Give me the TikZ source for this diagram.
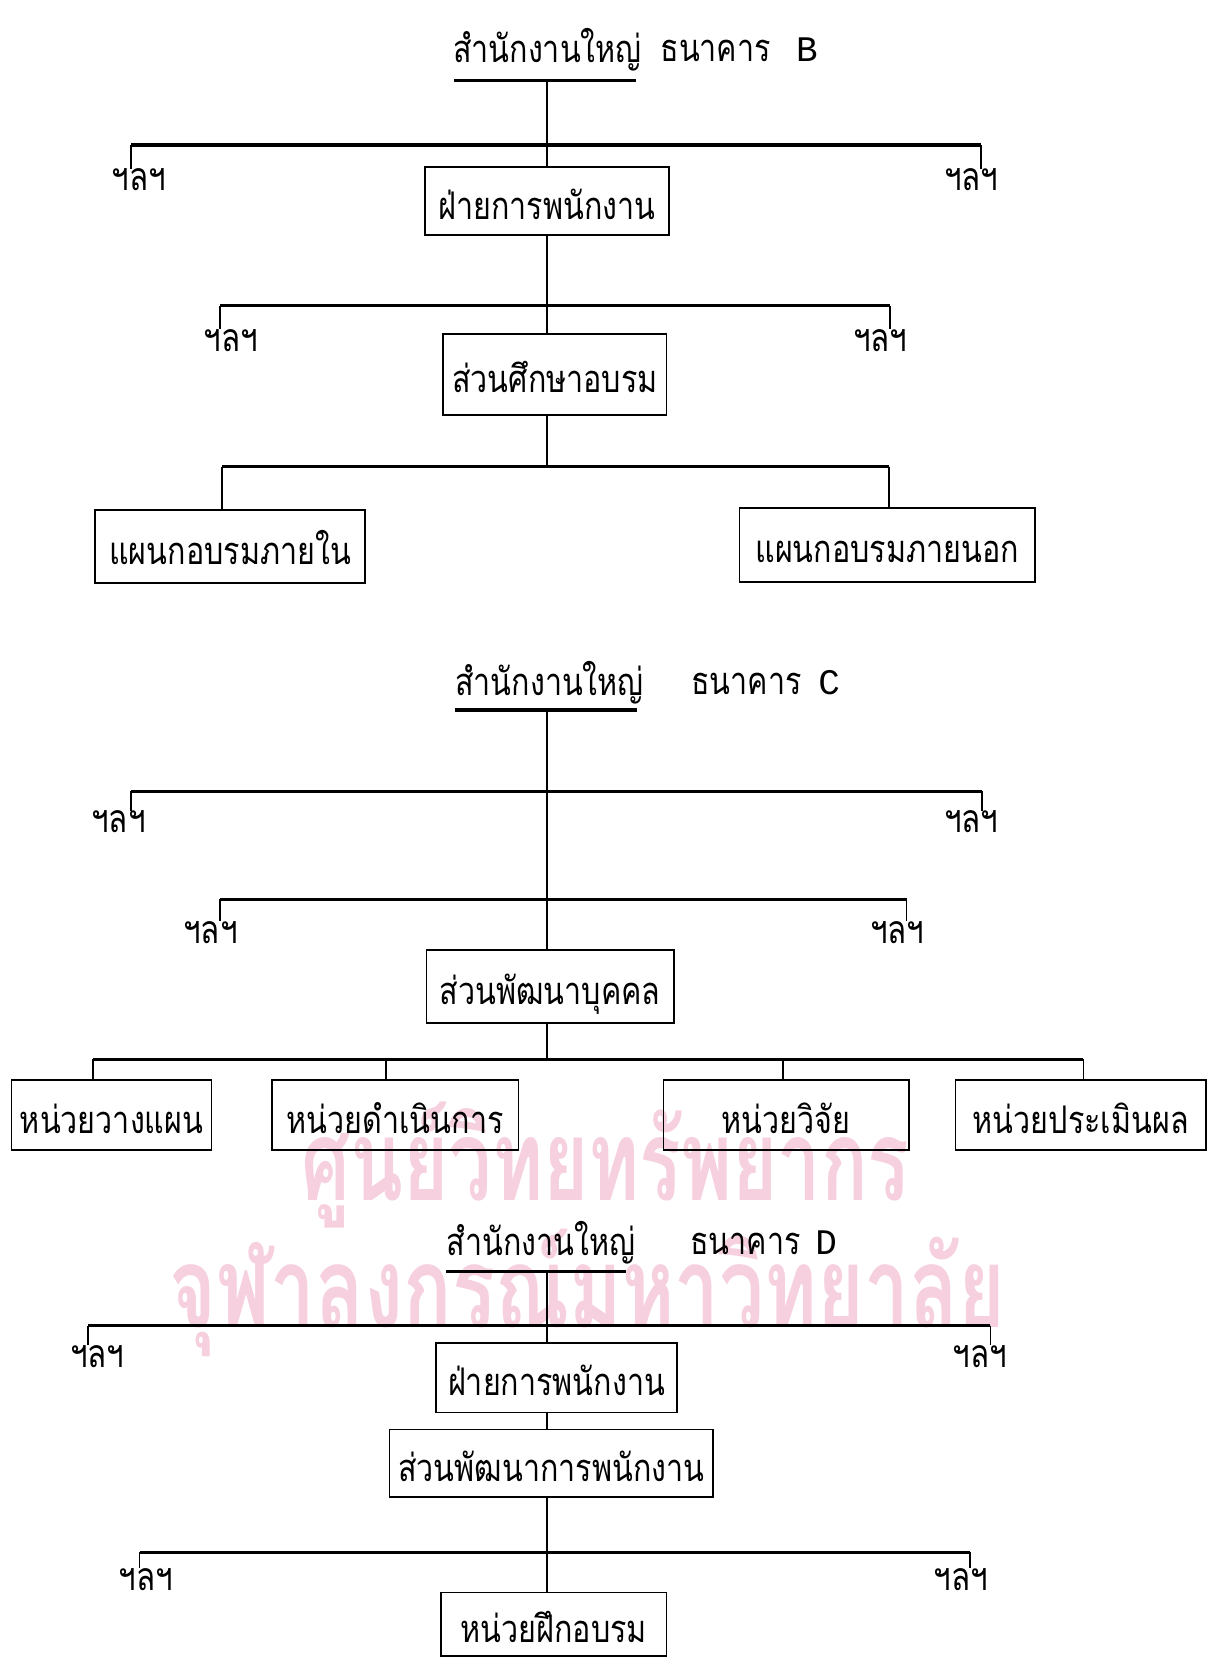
\documentclass[tikz,border=0pt]{standalone}
\usepackage{fontspec}
\usepackage{graphicx}
\newfontfamily\thaifont[Script=Thai,FakeStretch=0.8]{Loma}
\newfontfamily\wmfont[Script=Thai]{Loma}
\newfontfamily\latinmono{Liberation Mono}
\definecolor{wmpink}{RGB}{246,208,222}
\newcommand{\banklet}[1]{{\latinmono\fontsize{34}{34}\selectfont #1}}
\begin{document}
\begin{tikzpicture}[x=1pt,y=-1pt,
  bar/.style={line width=3pt},
  conn/.style={line width=1.4pt},
  tick/.style={line width=1.4pt},
  orgbox/.style={draw, line width=1.6pt, inner sep=0pt, text height=36pt, text depth=2pt,
    font=\thaifont\fontsize{36}{40}\selectfont},
  etc/.style={inner sep=0pt, font=\thaifont\fontsize{37}{40}\selectfont},
  ttl/.style={inner sep=0pt, anchor=west, font=\thaifont\fontsize{36}{40}\selectfont},
  wm/.style={inner sep=0pt, anchor=base, text=wmpink, font=\wmfont\bfseries}]
\useasboundingbox (0,0) rectangle (1152,1568);
\fill[white] (0,0) rectangle (1152,1568);

% watermark
\node[wm] (wm1) at (572,1135) {\scalebox{1}[1.45]{\resizebox{575pt}{!}{ศูนย์วิทยทรัพยากร}}};
\node[wm] (wm2) at (555,1255) {\scalebox{1}[1.4]{\resizebox{790pt}{!}{จุฬาลงกรณ์มหาวิทยาลัย}}};

% ================= B =================
\node[ttl] (tB1) at (428,47) {สำนักงานใหญ่};
\node[ttl] (tB2) at (624,47) {ธนาคาร\hspace{24pt}\banklet{B}};
\coordinate (uBl) at (429,76); \coordinate (uBr) at (601,76);
\coordinate (uB) at (517,76);
\draw[bar] (uBl) -- (uBr);

\coordinate (b1Bl) at (124,137); \coordinate (b1Br) at (927,137);
\node[etc] (e1Bl) at (131,170) {ฯลฯ};
\node[etc] (e1Br) at (918,170) {ฯลฯ};
\node[orgbox, minimum width=230pt, minimum height=64pt] (B1) at (517,190) {ฝ่ายการพนักงาน};
\coordinate (b2Bl) at (208,289); \coordinate (b2Br) at (841,289);
\node[etc] (e2Bl) at (218,322) {ฯลฯ};
\node[etc] (e2Br) at (832,322) {ฯลฯ};
\node[orgbox, minimum width=211pt, minimum height=76pt] (B2) at (524.5,354) {ส่วนศึกษาอบรม};
\coordinate (b3B) at (517,441); \coordinate (b3Bl) at (210,441); \coordinate (b3Br) at (840,441);
\node[orgbox, minimum width=255pt, minimum height=69pt] (BL) at (217.5,516.5) {แผนกอบรมภายใน};
\node[orgbox, minimum width=279pt, minimum height=70pt] (BR) at (838.5,515) {แผนกอบรมภายนอก};

\draw[conn] (uB) -- (B1.north);
\draw[bar] (b1Bl) -- (b1Br);
\draw[tick] (b1Bl) -- (b1Bl |- e1Bl.north);
\draw[tick] (b1Br) -- (b1Br |- e1Br.north);
\draw[conn] (B1.south) -- (B2.north -| B1.south);
\draw[bar] (b2Bl) -- (b2Br);
\draw[tick] (b2Bl) -- (b2Bl |- e2Bl.north);
\draw[tick] (b2Br) -- (b2Br |- e2Br.north);
\draw[conn] (B2.south -| b3B) -- (b3B);
\draw[bar] (b3Bl) -- (b3Br);
\draw[conn] (b3Bl) -- (b3Bl |- BL.north);
\draw[conn] (b3Br) -- (b3Br |- BR.north);

% ================= C =================
\node[ttl] (tC1) at (430,645) {สำนักงานใหญ่};
\node[ttl] (tC2) at (653,645) {ธนาคาร\hspace{16pt}\banklet{C}};
\coordinate (uCl) at (430,671); \coordinate (uCr) at (602,671);
\coordinate (uC) at (517,671);
\draw[bar] (uCl) -- (uCr);

\coordinate (b1Cl) at (124,748); \coordinate (b1Cr) at (928,748);
\node[etc] (e1Cl) at (112,777) {ฯลฯ};
\node[etc] (e1Cr) at (918,777) {ฯลฯ};
\coordinate (b2Cl) at (208,850); \coordinate (b2Cr) at (857,850);
\node[etc] (e2Cl) at (199,881) {ฯลฯ};
\node[etc] (e2Cr) at (848,881) {ฯลฯ};
\node[orgbox, minimum width=234pt, minimum height=69pt] (C1) at (520,932.5) {ส่วนพัฒนาบุคคล};
\coordinate (b3C) at (517,1001); \coordinate (b3Cl) at (88,1001); \coordinate (b3Cr) at (1024,1001);
\coordinate (t3C2) at (365,1001); \coordinate (t3C3) at (740,1001);
\node[orgbox, minimum width=189pt, minimum height=66pt] (C2) at (105.5,1054) {หน่วยวางแผน};
\node[orgbox, minimum width=233pt, minimum height=66pt] (C3) at (373.5,1054) {หน่วยดำเนินการ};
\node[orgbox, minimum width=232pt, minimum height=66pt] (C4) at (743,1054) {หน่วยวิจัย};
\node[orgbox, minimum width=237pt, minimum height=66pt] (C5) at (1021.5,1054) {หน่วยประเมินผล};

\draw[conn] (uC) -- (uC |- C1.north);
\draw[bar] (b1Cl) -- (b1Cr);
\draw[tick] (b1Cl) -- (b1Cl |- e1Cl.north);
\draw[tick] (b1Cr) -- (b1Cr |- e1Cr.north);
\draw[bar] (b2Cl) -- (b2Cr);
\draw[tick] (b2Cl) -- (b2Cl |- e2Cl.north);
\draw[tick] (b2Cr) -- (b2Cr |- e2Cr.north);
\draw[conn] (C1.south -| b3C) -- (b3C);
\draw[bar] (b3Cl) -- (b3Cr);
\draw[conn] (b3Cl) -- (b3Cl |- C2.north);
\draw[conn] (t3C2) -- (t3C2 |- C3.north);
\draw[conn] (t3C3) -- (t3C3 |- C4.north);
\draw[conn] (b3Cr) -- (b3Cr |- C5.north);

% ================= D =================
\node[ttl] (tD1) at (422,1175) {สำนักงานใหญ่};
\node[ttl] (tD2) at (652,1175) {ธนาคาร\hspace{14pt}\banklet{D}};
\coordinate (uDl) at (422,1202); \coordinate (uDr) at (592,1202);
\coordinate (uD) at (517,1202);
\draw[bar] (uDl) -- (uDr);

\coordinate (b1Dl) at (83,1253); \coordinate (b1Dr) at (936,1253);
\node[etc] (e1Dl) at (92,1282) {ฯลฯ};
\node[etc] (e1Dr) at (926,1282) {ฯลฯ};
\node[orgbox, minimum width=228pt, minimum height=66pt] (D1) at (526,1302) {ฝ่ายการพนักงาน};
\node[orgbox, minimum width=306pt, minimum height=64pt] (D2) at (521,1383) {ส่วนพัฒนาการพนักงาน};
\coordinate (b2Dl) at (132,1467); \coordinate (b2Dr) at (917,1467);
\node[etc] (e2Dl) at (138,1493) {ฯลฯ};
\node[etc] (e2Dr) at (908,1493) {ฯลฯ};
\node[orgbox, minimum width=213pt, minimum height=60pt] (D3) at (523.5,1535) {หน่วยฝึกอบรม};

\draw[conn] (uD) -- (uD |- D1.north);
\draw[bar] (b1Dl) -- (b1Dr);
\draw[tick] (b1Dl) -- (b1Dl |- e1Dl.north);
\draw[tick] (b1Dr) -- (b1Dr |- e1Dr.north);
\draw[conn] (D1.south -| uD) -- (D2.north -| uD);
\draw[conn] (D2.south -| uD) -- (D3.north -| uD);
\draw[bar] (b2Dl) -- (b2Dr);
\draw[tick] (b2Dl) -- (b2Dl |- e2Dl.north);
\draw[tick] (b2Dr) -- (b2Dr |- e2Dr.north);
\end{tikzpicture}
\end{document}
